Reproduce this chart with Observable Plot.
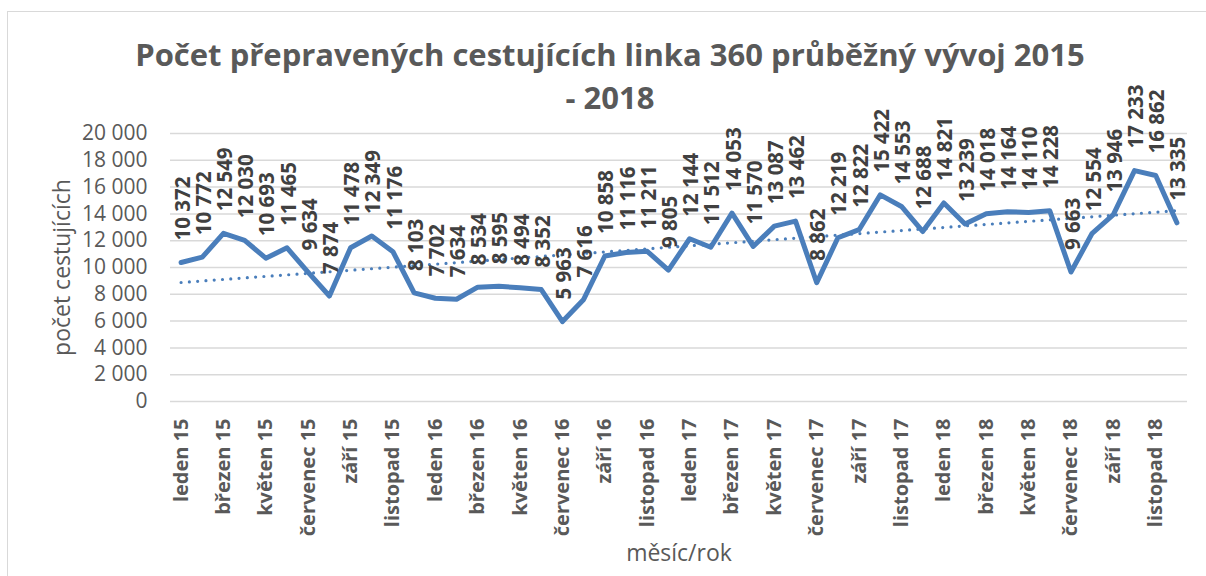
<!DOCTYPE html>
<html><head><meta charset="utf-8">
<script src="https://cdn.jsdelivr.net/npm/d3@7"></script>
<script src="https://cdn.jsdelivr.net/npm/@observablehq/plot@0.6"></script>
<style>
body{margin:0;width:1206px;height:576px;overflow:hidden;background:#fff;font-family:"Open Sans",sans-serif;position:relative}
#frame{position:absolute;left:7px;top:11px;width:1220px;height:600px;border:1.5px solid #d9d9d9;box-sizing:border-box}
.title{position:absolute;left:0;width:1220px;text-align:center;font-weight:700;font-size:31px;line-height:1;color:#595959;white-space:nowrap}
#chart{position:absolute;left:0;top:120px}
</style></head>
<body>
<div id="frame"></div>
<div class="title" style="top:39px">Počet přepravených cestujících linka 360 průběžný vývoj 2015</div>
<div class="title" style="top:82px">- 2018</div>
<div id="chart"></div>
<script>
const months = [
  "leden 15","únor 15","březen 15","duben 15","květen 15","červen 15","červenec 15","srpen 15","září 15","říjen 15","listopad 15","prosinec 15",
  "leden 16","únor 16","březen 16","duben 16","květen 16","červen 16","červenec 16","srpen 16","září 16","říjen 16","listopad 16","prosinec 16",
  "leden 17","únor 17","březen 17","duben 17","květen 17","červen 17","červenec 17","srpen 17","září 17","říjen 17","listopad 17","prosinec 17",
  "leden 18","únor 18","březen 18","duben 18","květen 18","červen 18","červenec 18","srpen 18","září 18","říjen 18","listopad 18","prosinec 18"
];
const values = [
  10372,10772,12549,12030,10693,11465,9634,7874,11478,12349,11176,8103,
  7702,7634,8534,8595,8494,8352,5963,7616,10858,11116,11211,9805,
  12144,11512,14053,11570,13087,13462,8862,12219,12822,15422,14553,12688,
  14821,13239,14018,14164,14110,14228,9663,12554,13946,17233,16862,13335
];
const yTicks = [0,2000,4000,6000,8000,10000,12000,14000,16000,18000,20000];
const tickIdx = months.map((m,i)=>i).filter(i => i % 2 === 0);

const blue = "#4a7ebb";
const data = months.map((m,i)=>({i, m, v: values[i]}));
const fmt = v => d3.format(",")(v).replace(/,/g," ");

const chart = Plot.plot({
  width:1206, height:456, marginLeft:170, marginRight:19, marginTop:13, marginBottom:175,
  style:{fontFamily:"Open Sans", background:"transparent", overflow:"visible"},
  x:{domain:[-0.5,47.5]},
  y:{domain:[0,20000]},
  marks:[
    Plot.gridY(yTicks,{stroke:"#d9d9d9", strokeOpacity:1, strokeWidth:1.5}),
    Plot.axisY({ticks:yTicks, tickFormat:fmt, tickSize:0, tickPadding:23, fontSize:21, fill:"#595959", label:null}),
    Plot.axisX({ticks:tickIdx, tickFormat:i=>months[i], tickRotate:-90, tickSize:0, tickPadding:17, fontSize:20, fontWeight:"bold", fill:"#595959", label:null}),
    Plot.lineY(data,{x:"i", y:"v", stroke:blue, strokeWidth:5, strokeLinejoin:"round"}),
    Plot.linearRegressionY(data,{x:"i", y:"v", ci:0, stroke:blue, strokeWidth:3.2, strokeDasharray:"0,8.3", strokeLinecap:"round"}),
    Plot.text(data,{x:"i", y:"v", text:d=>fmt(d.v), rotate:-90, textAnchor:"start", dx:2, dy:-22, fontSize:20.5, fontWeight:"bold", fill:"#404040"}),
    Plot.text(["měsíc/rok"],{text:d=>d, frameAnchor:"bottom", dy:159, fontSize:23, fill:"#595959"}),
    Plot.text(["počet cestujících"],{text:d=>d, frameAnchor:"left", rotate:-90, textAnchor:"middle", dx:-108, fontSize:23, fill:"#595959"})
  ]
});
document.getElementById("chart").appendChild(chart);
</script>
</body></html>
